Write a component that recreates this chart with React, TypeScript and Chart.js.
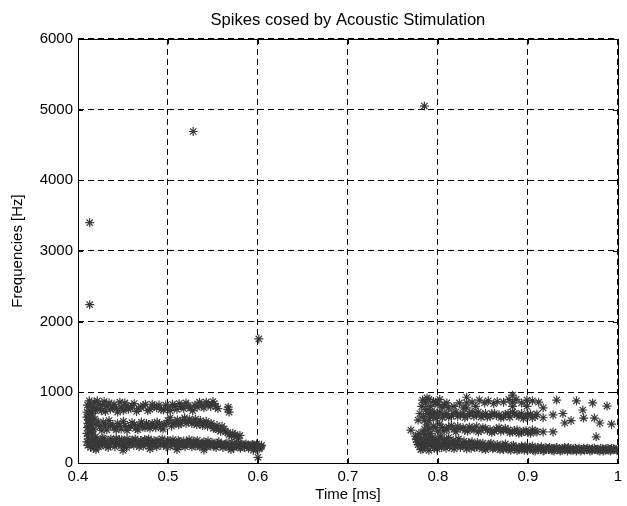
import React, { useEffect, useRef } from "react";
import { Chart, registerables } from "chart.js";

Chart.register(...registerables);

const chartTitle = "Spikes cosed by Acoustic Stimulation";
const xTitle = "Time [ms]";
const yTitle = "Frequencies [Hz]";

// [time, frequency] spikes
const outliers: number[][] = [
  [0.413, 2240], [0.413, 3400], [0.528, 4690], [0.601, 1755], [0.785, 5050], [0.600, 80],
];

const lowLeft: number[][] = [
  [0.410, 300], [0.410, 420], [0.411, 250], [0.412, 350], [0.413, 470], [0.414, 220], [0.415, 310],
  [0.416, 400], [0.418, 260], [0.419, 330], [0.421, 280], [0.423, 230], [0.425, 310], [0.427, 270],
  [0.429, 340], [0.431, 240], [0.433, 300], [0.436, 260], [0.438, 320], [0.441, 230], [0.443, 290],
  [0.446, 330], [0.448, 250], [0.451, 300], [0.454, 220], [0.456, 280], [0.459, 320], [0.462, 250],
  [0.465, 300], [0.468, 230], [0.471, 290], [0.474, 330], [0.477, 260], [0.480, 300], [0.483, 240],
  [0.486, 280], [0.489, 320], [0.492, 250], [0.495, 290], [0.498, 230], [0.501, 310], [0.504, 260],
  [0.507, 290], [0.510, 240], [0.513, 300], [0.516, 270], [0.519, 230], [0.522, 290], [0.525, 260],
  [0.528, 310], [0.531, 240], [0.534, 280], [0.537, 250], [0.540, 300], [0.543, 230], [0.546, 270],
  [0.549, 290], [0.552, 240], [0.555, 280], [0.558, 250], [0.561, 220], [0.564, 270], [0.567, 240],
  [0.570, 260], [0.573, 220], [0.576, 250], [0.579, 230], [0.582, 270], [0.585, 220], [0.588, 250],
  [0.591, 230], [0.594, 260], [0.597, 210], [0.600, 240], [0.602, 220], [0.604, 250],
  [0.420, 190], [0.450, 180], [0.480, 200], [0.510, 190], [0.540, 185], [0.570, 190], [0.595, 180],
];

const lowLeft2: number[][] = [
  [0.4115, 380], [0.4135, 290], [0.4155, 450], [0.4175, 210], [0.4195, 370], [0.4225, 320], [0.4245, 250],
  [0.4275, 350], [0.4305, 290], [0.4335, 220], [0.4365, 340], [0.4395, 280], [0.4425, 350], [0.4455, 260],
  [0.4485, 330], [0.4515, 240], [0.4545, 340], [0.4575, 260], [0.4605, 300], [0.4635, 340], [0.4665, 270],
  [0.4695, 320], [0.4725, 240], [0.4755, 300], [0.4785, 340], [0.4815, 270], [0.4845, 320], [0.4875, 230],
  [0.4905, 290], [0.4935, 340], [0.4965, 270], [0.4995, 320], [0.5025, 240], [0.5055, 330], [0.5085, 270],
  [0.5115, 320], [0.5145, 240], [0.5175, 310], [0.5205, 260], [0.5235, 330], [0.5265, 230], [0.5295, 280],
  [0.5325, 320], [0.5355, 230], [0.5385, 280], [0.5415, 260], [0.5445, 310], [0.5475, 240], [0.5505, 270],
  [0.5535, 220], [0.5565, 300], [0.5595, 260], [0.5625, 240], [0.5655, 280], [0.5685, 220], [0.5715, 280],
  [0.5745, 240], [0.5775, 270], [0.5805, 210], [0.5835, 250], [0.5865, 270], [0.5895, 210], [0.5925, 250],
  [0.5955, 240], [0.5985, 270], [0.6015, 200], [0.6035, 230],
];

const midLeft: number[][] = [
  [0.410, 650], [0.411, 560], [0.413, 690], [0.412, 520], [0.414, 600], [0.417, 480], [0.420, 550],
  [0.424, 510], [0.428, 580], [0.432, 470], [0.436, 540], [0.440, 500], [0.444, 560], [0.448, 480],
  [0.452, 530], [0.456, 500], [0.460, 570], [0.464, 490], [0.468, 540], [0.472, 510], [0.476, 560],
  [0.480, 490], [0.484, 530], [0.488, 580], [0.492, 510], [0.496, 550], [0.500, 600], [0.504, 520],
  [0.508, 570], [0.512, 540], [0.516, 600], [0.520, 560], [0.524, 620], [0.528, 580], [0.532, 540],
  [0.536, 600], [0.540, 560], [0.544, 520], [0.548, 560], [0.552, 500], [0.556, 470], [0.560, 520],
  [0.564, 440], [0.568, 400], [0.572, 420], [0.576, 370], [0.580, 390],
];

const midLeft2: number[][] = [
  [0.4105, 500], [0.4115, 610], [0.4145, 540], [0.4185, 620], [0.4225, 580], [0.4265, 460], [0.4305, 530],
  [0.4345, 600], [0.4385, 520], [0.4425, 470], [0.4465, 530], [0.4505, 590], [0.4545, 460], [0.4585, 520],
  [0.4625, 540], [0.4665, 470], [0.4705, 580], [0.4745, 500], [0.4785, 540], [0.4825, 560], [0.4865, 500],
  [0.4905, 550], [0.4945, 480], [0.4985, 560], [0.5025, 640], [0.5065, 560], [0.5105, 610], [0.5145, 560],
  [0.5185, 640], [0.5225, 590], [0.5265, 560], [0.5305, 620], [0.5345, 570], [0.5385, 530], [0.5425, 590],
  [0.5465, 540], [0.5505, 490], [0.5545, 530], [0.5585, 450], [0.5625, 480], [0.5665, 430], [0.5705, 380],
  [0.5745, 400], [0.5785, 350], [0.410, 720], [0.412, 660],
];

const topLeft: number[][] = [
  [0.412, 750], [0.414, 820], [0.416, 700], [0.418, 860], [0.420, 780], [0.423, 830], [0.426, 740],
  [0.429, 870], [0.432, 800], [0.436, 760], [0.440, 830], [0.444, 720], [0.448, 790], [0.452, 850],
  [0.456, 760], [0.460, 810], [0.465, 730], [0.470, 790], [0.475, 830], [0.480, 760], [0.485, 800],
  [0.490, 820], [0.495, 750], [0.500, 780], [0.505, 830], [0.510, 760], [0.515, 800], [0.520, 850],
  [0.525, 780], [0.530, 820], [0.535, 860], [0.540, 780], [0.545, 830], [0.550, 870], [0.553, 800],
  [0.567, 790], [0.568, 720],
];

const topLeft2: number[][] = [
  [0.4105, 820], [0.4125, 880], [0.4145, 700], [0.4165, 790], [0.4195, 740], [0.4215, 880], [0.4245, 770],
  [0.4275, 820], [0.4305, 730], [0.4345, 850], [0.4385, 800], [0.4425, 770], [0.4465, 860], [0.4505, 740],
  [0.4545, 810], [0.4585, 780], [0.4625, 840], [0.4675, 770], [0.4725, 810], [0.4775, 740], [0.4825, 830],
  [0.4875, 780], [0.4925, 760], [0.4975, 820], [0.5025, 740], [0.5075, 800], [0.5125, 840], [0.5175, 770],
  [0.5225, 810], [0.5275, 740], [0.5325, 790], [0.5375, 820], [0.5425, 860], [0.5475, 800], [0.5515, 840],
  [0.5555, 770], [0.5665, 760],
];

const lowRight: number[][] = [
  [0.770, 466], [0.775, 380], [0.777, 300], [0.779, 420], [0.780, 250], [0.782, 340], [0.783, 200],
  [0.785, 280], [0.786, 400], [0.788, 230], [0.790, 320], [0.792, 260], [0.794, 360], [0.796, 210],
  [0.798, 300], [0.800, 250], [0.802, 340], [0.804, 220], [0.806, 290], [0.808, 260], [0.810, 320],
  [0.813, 230], [0.816, 280], [0.819, 250], [0.822, 300], [0.825, 220], [0.828, 270], [0.831, 240],
  [0.834, 290], [0.837, 210], [0.840, 260], [0.843, 230], [0.846, 270], [0.849, 200], [0.852, 250],
  [0.855, 220], [0.858, 260], [0.861, 200], [0.864, 240], [0.867, 210], [0.870, 250], [0.873, 190],
  [0.876, 230], [0.879, 200], [0.882, 240], [0.885, 210], [0.888, 180], [0.891, 220], [0.894, 200],
  [0.897, 240], [0.900, 190], [0.903, 220], [0.906, 180], [0.909, 210], [0.912, 190], [0.915, 230],
  [0.918, 180], [0.921, 200], [0.924, 220], [0.927, 180], [0.930, 210], [0.933, 190], [0.936, 170],
  [0.939, 210], [0.942, 190], [0.945, 220], [0.948, 180], [0.951, 200], [0.954, 170], [0.957, 210],
  [0.960, 190], [0.963, 180], [0.966, 210], [0.969, 170], [0.972, 200], [0.975, 190], [0.978, 180],
  [0.981, 210], [0.984, 170], [0.987, 200], [0.990, 180], [0.993, 210], [0.996, 190], [0.999, 180],
  [0.976, 370],
];

const lowRight2: number[][] = [
  [0.776, 330], [0.778, 260], [0.779, 360], [0.781, 190], [0.782, 290], [0.784, 420], [0.785, 230],
  [0.787, 340], [0.789, 280], [0.790, 180], [0.791, 380], [0.793, 300], [0.795, 240], [0.797, 340],
  [0.799, 200], [0.801, 290], [0.803, 380], [0.805, 250], [0.807, 330], [0.809, 210], [0.811, 280],
  [0.812, 360], [0.814, 250], [0.817, 320], [0.818, 200], [0.821, 260], [0.823, 340], [0.826, 250],
  [0.829, 310], [0.832, 200], [0.835, 260], [0.838, 300], [0.841, 220], [0.844, 290], [0.847, 240],
  [0.850, 280], [0.853, 190], [0.856, 240], [0.859, 280], [0.862, 220], [0.866, 260], [0.869, 190],
  [0.872, 230], [0.875, 270], [0.878, 210], [0.881, 180], [0.884, 250], [0.887, 220], [0.890, 190],
  [0.893, 240], [0.896, 180], [0.899, 220], [0.902, 200], [0.905, 240], [0.908, 170], [0.911, 220],
  [0.914, 200], [0.917, 170], [0.920, 220], [0.923, 190], [0.926, 210], [0.929, 170], [0.932, 220],
  [0.935, 200], [0.938, 180], [0.941, 220], [0.944, 170], [0.947, 200], [0.950, 180], [0.953, 210],
  [0.956, 190], [0.959, 170], [0.962, 210], [0.965, 190], [0.968, 200], [0.971, 180], [0.974, 210],
  [0.977, 190], [0.980, 170], [0.983, 200], [0.986, 180], [0.989, 210], [0.992, 170], [0.995, 200],
  [0.998, 190],
];

const midRight: number[][] = [
  [0.790, 480], [0.795, 520], [0.800, 450], [0.805, 500], [0.810, 470], [0.815, 530], [0.820, 440],
  [0.825, 490], [0.830, 460], [0.835, 510], [0.840, 470], [0.845, 440], [0.850, 500], [0.855, 460],
  [0.860, 430], [0.865, 480], [0.870, 450], [0.875, 490], [0.880, 430], [0.885, 460], [0.890, 420],
  [0.895, 450], [0.900, 430], [0.905, 470], [0.910, 440], [0.917, 440], [0.928, 440],
  [0.785, 480], [0.788, 540], [0.792, 420], [0.797, 500], [0.802, 550], [0.807, 460], [0.812, 510],
  [0.818, 480], [0.822, 520], [0.828, 500], [0.833, 450], [0.838, 490], [0.843, 520], [0.848, 460],
  [0.853, 490], [0.858, 470], [0.863, 450], [0.868, 500], [0.873, 460], [0.878, 470], [0.883, 440],
  [0.888, 470], [0.893, 430], [0.898, 460], [0.903, 420], [0.908, 450],
];

const upperRight: number[][] = [
  [0.778, 608], [0.785, 600], [0.788, 700], [0.792, 650], [0.796, 720], [0.800, 680], [0.805, 640],
  [0.810, 700], [0.815, 660], [0.820, 720], [0.825, 680], [0.830, 640], [0.835, 700], [0.840, 660],
  [0.845, 720], [0.850, 680], [0.855, 650], [0.860, 700], [0.865, 670], [0.870, 640], [0.875, 690],
  [0.880, 650], [0.885, 700], [0.890, 660], [0.895, 630], [0.900, 680], [0.905, 640], [0.910, 690],
  [0.917, 780], [0.917, 640], [0.928, 680], [0.939, 700], [0.941, 566], [0.948, 600], [0.961, 750],
  [0.962, 636], [0.974, 636], [0.980, 566], [0.993, 550],
  [0.780, 700], [0.782, 800], [0.784, 660], [0.787, 760], [0.790, 600], [0.791, 720], [0.794, 680],
  [0.798, 630], [0.802, 720], [0.807, 680], [0.812, 650], [0.817, 700], [0.822, 660], [0.828, 700],
  [0.833, 670], [0.838, 720], [0.843, 690], [0.848, 650], [0.853, 700], [0.858, 660], [0.863, 700],
  [0.868, 680], [0.873, 650], [0.878, 700], [0.883, 720], [0.888, 680], [0.893, 700], [0.898, 660],
  [0.903, 690], [0.908, 660],
];

const topRight: number[][] = [
  [0.783, 890], [0.786, 850], [0.788, 920], [0.792, 800], [0.795, 870], [0.800, 830], [0.805, 790],
  [0.810, 850], [0.832, 930], [0.832, 850], [0.832, 780], [0.846, 890], [0.856, 880], [0.866, 870],
  [0.883, 960], [0.883, 860], [0.883, 800], [0.899, 890], [0.899, 800], [0.932, 890], [0.954, 880],
  [0.972, 850], [0.988, 806],
  [0.790, 900], [0.797, 860], [0.802, 900], [0.807, 820], [0.812, 780], [0.818, 800], [0.824, 850],
  [0.828, 780], [0.838, 860], [0.842, 800], [0.852, 850], [0.862, 840], [0.873, 860], [0.879, 900],
  [0.887, 900], [0.893, 850], [0.905, 880], [0.912, 860],
];

const xMin = 0.4;
const xMax = 1;
const xStep = 0.1;
const yMin = 0;
const yMax = 6000;
const yStep = 1000;

const FONT = "'Liberation Sans', Arial, Helvetica, sans-serif";
const MARK = "#383838";

const boxPlugin = {
  id: "matlabBox",
  afterDraw(chart: any) {
    const { ctx, chartArea } = chart;
    const { left, right, top, bottom } = chartArea;
    ctx.save();
    ctx.setLineDash([]);
    ctx.strokeStyle = "#000";
    ctx.lineWidth = 1;
    ctx.strokeRect(Math.round(left) + 0.5, Math.round(top) + 0.5, Math.round(right - left), Math.round(bottom - top));
    const xs = chart.scales.x;
    const ys = chart.scales.y;
    const tl = 5;
    ctx.beginPath();
    xs.ticks.forEach((t: any) => {
      const px = Math.round(xs.getPixelForValue(t.value)) + 0.5;
      ctx.moveTo(px, bottom);
      ctx.lineTo(px, bottom - tl);
      ctx.moveTo(px, top);
      ctx.lineTo(px, top + tl);
    });
    ys.ticks.forEach((t: any) => {
      const py = Math.round(ys.getPixelForValue(t.value)) + 0.5;
      ctx.moveTo(left, py);
      ctx.lineTo(left + tl, py);
      ctx.moveTo(right, py);
      ctx.lineTo(right - tl, py);
    });
    ctx.stroke();
    ctx.restore();
  },
};

const groups = [
  outliers, lowLeft, lowLeft2, midLeft, midLeft2, topLeft, topLeft2,
  lowRight, lowRight2, midRight, upperRight, topRight,
];

export default function App() {
  const ref = useRef<HTMLCanvasElement | null>(null);

  useEffect(() => {
    document.body.style.margin = "0";
    const canvas = ref.current;
    if (!canvas) return;
    const chart = new Chart(canvas, {
      type: "scatter",
      data: {
        datasets: groups.map((g) => ({
          data: g.map(([x, y]) => ({ x, y })),
          pointStyle: "star",
          radius: 4.5,
          borderWidth: 1.2,
          borderColor: MARK,
          backgroundColor: MARK,
        })),
      },
      options: {
        responsive: false,
        animation: false,
        layout: { padding: { left: 0, right: 9, top: 0, bottom: 0 } },
        plugins: {
          legend: { display: false },
          tooltip: { enabled: false },
          title: {
            display: true,
            fullSize: false,
            text: chartTitle,
            color: "#000",
            font: { family: FONT, size: 16.6, weight: "normal" },
            padding: { top: 10, bottom: 9 },
          },
        },
        scales: {
          x: {
            type: "linear",
            min: xMin,
            max: xMax,
            afterFit: (s: any) => { s.height = 43; },
            ticks: {
              stepSize: xStep,
              color: "#000",
              padding: 5,
              maxRotation: 0,
              font: { family: FONT, size: 15 },
              callback: (v: any) => String(Number(Number(v).toFixed(1))),
            },
            grid: { color: "#000", lineWidth: 1, drawTicks: false },
            border: { display: false, dash: [6, 4] },
            title: {
              display: true,
              text: xTitle,
              color: "#000",
              font: { family: FONT, size: 15 },
              padding: { top: 0, bottom: 2 },
            },
          },
          y: {
            type: "linear",
            min: yMin,
            max: yMax,
            afterFit: (s: any) => { s.width = 78; },
            ticks: {
              stepSize: yStep,
              color: "#000",
              padding: 5,
              font: { family: FONT, size: 15 },
              callback: (v: any) => String(Math.round(Number(v))),
            },
            grid: { color: "#000", lineWidth: 1, drawTicks: false },
            border: { display: false, dash: [6, 4] },
            title: {
              display: true,
              text: yTitle,
              color: "#000",
              font: { family: FONT, size: 15 },
              padding: { top: 9, bottom: 0 },
            },
          },
        },
      },
      plugins: [boxPlugin],
    } as any);
    return () => chart.destroy();
  }, []);

  return (
    <div style={{ position: "absolute", left: 0, top: 0, width: 627, height: 506, background: "#fff" }}>
      <canvas ref={ref} width={627} height={506} style={{ display: "block" }} />
    </div>
  );
}
